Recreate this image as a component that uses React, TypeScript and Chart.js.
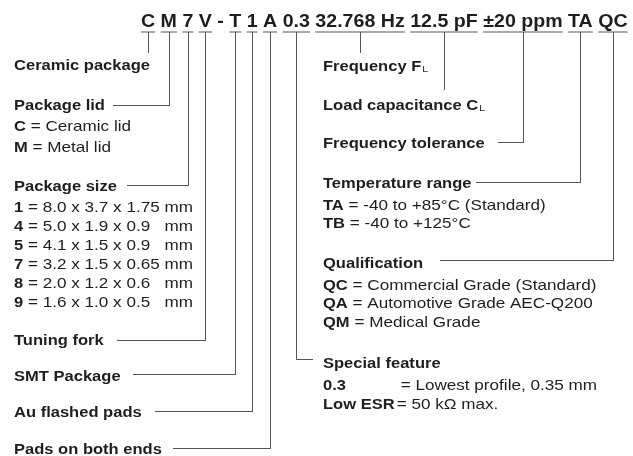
import React, { useEffect, useRef } from "react";
import { Chart, registerables } from "chart.js";
Chart.register(...registerables);

const W = 633;
const H = 456;
const FAMILY = '"Liberation Sans", Arial, Helvetica, sans-serif';
const TEXT_COLOR = "#1e1e1e";
const LINE_COLOR = "#555555";

// ---- data ----
const codeSegments = ["C", "M", "7", "V", "-", "T", "1", "A", "0.3", "32.768 Hz", "12.5 pF", "±20 ppm", "TA", "QC"];
const segmentFields = [
  "Ceramic package", "Package lid", "Package size", "Tuning fork", null, "SMT Package", "Au flashed pads",
  "Pads on both ends", "Special feature", "Frequency F", "Load capacitance C", "Frequency tolerance",
  "Temperature range", "Qualification",
];
const lidCodes = ["C", "M"];
const lidNames = ["Ceramic lid", "Metal lid"];
const sizeCodes = ["1", "4", "5", "7", "8", "9"];
const sizeDims = ["8.0 x 3.7 x 1.75", "5.0 x 1.9 x 0.9", "4.1 x 1.5 x 0.9", "3.2 x 1.5 x 0.65", "2.0 x 1.2 x 0.6", "1.6 x 1.0 x 0.5"];
const sizeUnit = "mm";
const tempCodes = ["TA", "TB"];
const tempRanges = ["-40 to +85°C (Standard)", "-40 to +125°C"];
const qualCodes = ["QC", "QA", "QM"];
const qualNames = ["Commercial Grade (Standard)", "Automotive Grade AEC-Q200", "Medical Grade"];
const specialCodes = ["0.3", "Low ESR"];
const specialNames = ["Lowest profile, 0.35 mm", "50 kΩ max."];

// ---- layout ----
type FieldLayout = { x: number; y: number; stopY?: number; lineX?: number; lineY?: number; sub?: string };
const fieldLayout: Record<string, FieldLayout> = {
  "Ceramic package": { x: 14, y: 65, stopY: 53 },
  "Package lid": { x: 14, y: 104.5, lineX: 113, lineY: 105 },
  "Package size": { x: 14, y: 186, lineX: 127, lineY: 185 },
  "Tuning fork": { x: 14, y: 339.5, lineX: 117, lineY: 340 },
  "SMT Package": { x: 14, y: 375.5, lineX: 133, lineY: 374 },
  "Au flashed pads": { x: 14, y: 412, lineX: 155, lineY: 411 },
  "Pads on both ends": { x: 14, y: 449, lineX: 173, lineY: 448 },
  "Special feature": { x: 323, y: 362.5, lineX: 313, lineY: 359 },
  "Frequency F": { x: 323, y: 66, stopY: 53, sub: "L" },
  "Load capacitance C": { x: 323, y: 105, stopY: 90, sub: "L" },
  "Frequency tolerance": { x: 323, y: 143, lineX: 498, lineY: 142 },
  "Temperature range": { x: 323, y: 182.5, lineX: 476, lineY: 182 },
  "Qualification": { x: 323, y: 263, lineX: 440, lineY: 260 },
};

const CODE_X = 141;
const CODE_BASE = 27;
const UNDERLINE_Y = 32;
const CODE_SIZE = 18.5;
const CODE_SX = 1.06;
const BOLD_SIZE = 14.5;
const BOLD_SX = 1.14;
const REG_SIZE = 14.5;
const REG_SX = 1.18;

const bold = (s: number) => `bold ${s}px ${FAMILY}`;
const reg = (s: number) => `${s}px ${FAMILY}`;

function measure(ctx: CanvasRenderingContext2D, s: string, font: string, sx: number) {
  ctx.save();
  ctx.font = font;
  const w = ctx.measureText(s).width * sx;
  ctx.restore();
  return w;
}

function drawText(ctx: CanvasRenderingContext2D, s: string, x: number, yCenter: number, font: string, sx: number, size: number) {
  ctx.save();
  ctx.font = font;
  ctx.fillStyle = TEXT_COLOR;
  ctx.textBaseline = "alphabetic";
  ctx.textAlign = "left";
  ctx.translate(x, yCenter + size * 0.716 / 2);
  ctx.scale(sx, 1);
  ctx.fillText(s, 0, 0);
  const w = ctx.measureText(s).width * sx;
  ctx.restore();
  return w;
}

function layoutCode(ctx: CanvasRenderingContext2D) {
  const font = bold(CODE_SIZE);
  const space = measure(ctx, " ", font, CODE_SX);
  let x = CODE_X;
  return codeSegments.map((s) => {
    const w = measure(ctx, s, font, CODE_SX);
    const item = { s, x0: x, w, cx: x + w / 2 };
    x += w + space;
    return item;
  });
}

const crisp = (v: number) => Math.round(v) + 0.5;

export default function App() {
  const ref = useRef<HTMLCanvasElement | null>(null);

  useEffect(() => {
    const canvas = ref.current;
    if (!canvas) return;
    const mctx = canvas.getContext("2d")!;
    const code = layoutCode(mctx);

    const datasets: any[] = [];
    const lineStyle = { showLine: true, borderColor: LINE_COLOR, borderWidth: 1, pointRadius: 0, fill: false };
    code.forEach((c, i) => {
      const f = segmentFields[i];
      if (!f) return;
      datasets.push({ ...lineStyle, data: [{ x: c.x0, y: UNDERLINE_Y }, { x: c.x0 + c.w, y: UNDERLINE_Y }] });
      const L = fieldLayout[f];
      const vx = crisp(c.cx);
      if (L.stopY !== undefined) {
        datasets.push({ ...lineStyle, data: [{ x: vx, y: UNDERLINE_Y }, { x: vx, y: L.stopY }] });
      } else {
        const ly = crisp(L.lineY!);
        datasets.push({ ...lineStyle, data: [{ x: vx, y: UNDERLINE_Y }, { x: vx, y: ly }, { x: L.lineX!, y: ly }] });
      }
    });

    const textPlugin = {
      id: "partText",
      afterDraw(chart: any) {
        const ctx: CanvasRenderingContext2D = chart.ctx;
        const xs = chart.scales.x;
        const ys = chart.scales.y;
        const px = (v: number) => xs.getPixelForValue(v);
        const py = (v: number) => ys.getPixelForValue(v);

        code.forEach((c) => {
          ctx.save();
          ctx.font = bold(CODE_SIZE);
          ctx.fillStyle = TEXT_COLOR;
          ctx.translate(px(c.x0), py(CODE_BASE));
          ctx.scale(CODE_SX, 1);
          ctx.fillText(c.s, 0, 0);
          ctx.restore();
        });

        Object.keys(fieldLayout).forEach((name) => {
          const L = fieldLayout[name];
          const w = drawText(ctx, name, px(L.x), py(L.y), bold(BOLD_SIZE), BOLD_SX, BOLD_SIZE);
          if (L.sub) {
            drawText(ctx, L.sub, px(L.x) + w + 1, py(L.y) + 2.2, reg(9.5), 1.1, 9.5);
          }
        });

        const optionRow = (x: number, y: number, c: string, rest: string) => {
          const w = drawText(ctx, c, px(x), py(y), bold(BOLD_SIZE), BOLD_SX, BOLD_SIZE);
          drawText(ctx, rest, px(x) + w, py(y), reg(REG_SIZE), REG_SX, REG_SIZE);
        };

        lidCodes.forEach((c, i) => optionRow(14, 126 + i * 20.6, c, " = " + lidNames[i]));
        let unitX = 0;
        sizeCodes.forEach((c, i) => {
          const w = measure(ctx, c, bold(BOLD_SIZE), BOLD_SX) + measure(ctx, " = " + sizeDims[i] + " ", reg(REG_SIZE), REG_SX);
          unitX = Math.max(unitX, w);
        });
        sizeCodes.forEach((c, i) => {
          const y = 206.7 + i * 18.95;
          optionRow(14, y, c, " = " + sizeDims[i]);
          drawText(ctx, sizeUnit, px(14) + unitX, py(y), reg(REG_SIZE), REG_SX, REG_SIZE);
        });
        tempCodes.forEach((c, i) => optionRow(323, 205 + i * 18.3, c, " = " + tempRanges[i]));
        qualCodes.forEach((c, i) => optionRow(323, 285 + i * 18.3, c, " = " + qualNames[i]));
        const wLong = measure(ctx, specialCodes[1], bold(BOLD_SIZE), BOLD_SX);
        specialCodes.forEach((c, i) => {
          const y = 385 + i * 19;
          drawText(ctx, c, px(323), py(y), bold(BOLD_SIZE), BOLD_SX, BOLD_SIZE);
          const wc = measure(ctx, c, bold(BOLD_SIZE), BOLD_SX);
          const start = i === 0 ? px(323) + wLong + 6 : px(323) + wc + 2;
          drawText(ctx, "= " + specialNames[i], start, py(y), reg(REG_SIZE), REG_SX, REG_SIZE);
        });
      },
    };

    const chart = new Chart(canvas, {
      type: "scatter",
      data: { datasets },
      options: {
        animation: false,
        responsive: false,
        events: [],
        layout: { padding: 0 },
        plugins: { legend: { display: false }, tooltip: { enabled: false } },
        scales: {
          x: { type: "linear", min: 0, max: W, display: false },
          y: { type: "linear", min: 0, max: H, reverse: true, display: false },
        },
      },
      plugins: [textPlugin],
    });
    return () => chart.destroy();
  }, []);

  return (
    <div style={{ position: "absolute", left: 0, top: 0, width: W, height: H, background: "#fff" }}>
      <canvas ref={ref} width={W} height={H} style={{ display: "block", width: W, height: H }} />
    </div>
  );
}
